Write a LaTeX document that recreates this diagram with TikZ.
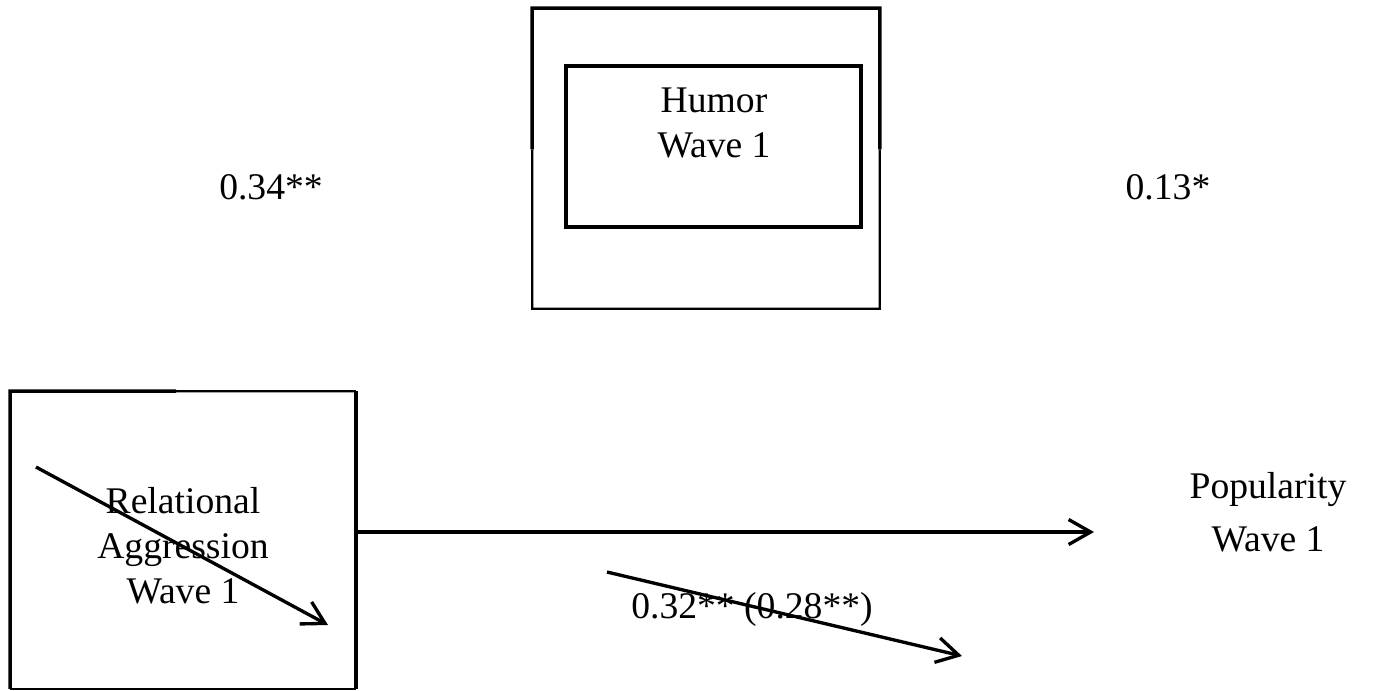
\documentclass[tikz,border=0pt]{standalone}
\usepackage{fontspec}
\setmainfont{Liberation Serif}
\usepackage{tikz}
\usetikzlibrary{arrows.meta, positioning, calc}
\tikzset{
    heavy/.style={line width=1pt},
    light/.style={line width=0.65pt},
    pathline/.style={line width=0.95pt, -{Straight Barb[length=2.2mm, width=2.5mm, line width=0.95pt]}},
    lbl/.style={font=\fontsize{10.7}{12.8}\selectfont, align=center, inner sep=0pt},
}

\begin{document}
\begin{tikzpicture}[x=0.01cm, y=-0.01cm]
    \useasboundingbox (0,0) rectangle (1373,690);
    \node[draw, heavy, minimum width=2.95cm, minimum height=1.61cm, inner sep=0pt] (humorin) at (713.5,146.5) {};
    \node[lbl] (humortext) at (714,123) {Humor\\Wave 1};
    \node[minimum width=3.46cm, minimum height=2.99cm, inner sep=0pt] (humorout) at (706,158.5) {};
    \coordinate (hl) at ($(humorout.north west)!0.47!(humorout.south west)$);
    \coordinate (hr) at ($(humorout.north east)!0.47!(humorout.south east)$);
    \draw[heavy] (hl) -- (humorout.north west) -- (humorout.north east) -- (hr);
    \draw[light] (hl) -- (humorout.south west) -- (humorout.south east) -- (hr);
    \node[minimum width=3.44cm, minimum height=2.96cm, inner sep=0pt] (relagg) at (183,540) {};
    \node[lbl] (reltext) at (183,546) {Relational\\Aggression\\Wave 1};
    \coordinate (rt) at ($(relagg.north west)!0.48!(relagg.north east)$);
    \draw[heavy] (rt) -- (relagg.north west) -- (relagg.south west);
    \draw[light] (rt) -- (relagg.north east);
    \draw[heavy] (relagg.north east) -- (relagg.south east);
    \draw[light] (relagg.south west) -- (relagg.south east);
    \node[lbl, font=\fontsize{10.7}{15.2}\selectfont] (popular) at (1268,512) {Popularity\\Wave 1};
    \coordinate (ptip) at (1094,532);
    \draw[pathline] (relagg.east |- ptip) -- (ptip);
    \coordinate (rstart) at (36,467);
    \coordinate (rend) at (328,625);
    \draw[pathline] (rstart) -- (rend);
    \coordinate (bstart) at (607,572);
    \coordinate (bend) at (962,656);
    \draw[pathline] (bstart) -- (bend);
    \node[lbl, anchor=base] (apath) at (271,199) {0.34**};
    \node[lbl, anchor=base] (bpath) at (1168,199) {0.13*};
    \node[lbl, anchor=base] (cpath) at (752,618) {0.32** (0.28**)};
\end{tikzpicture}
\end{document}
